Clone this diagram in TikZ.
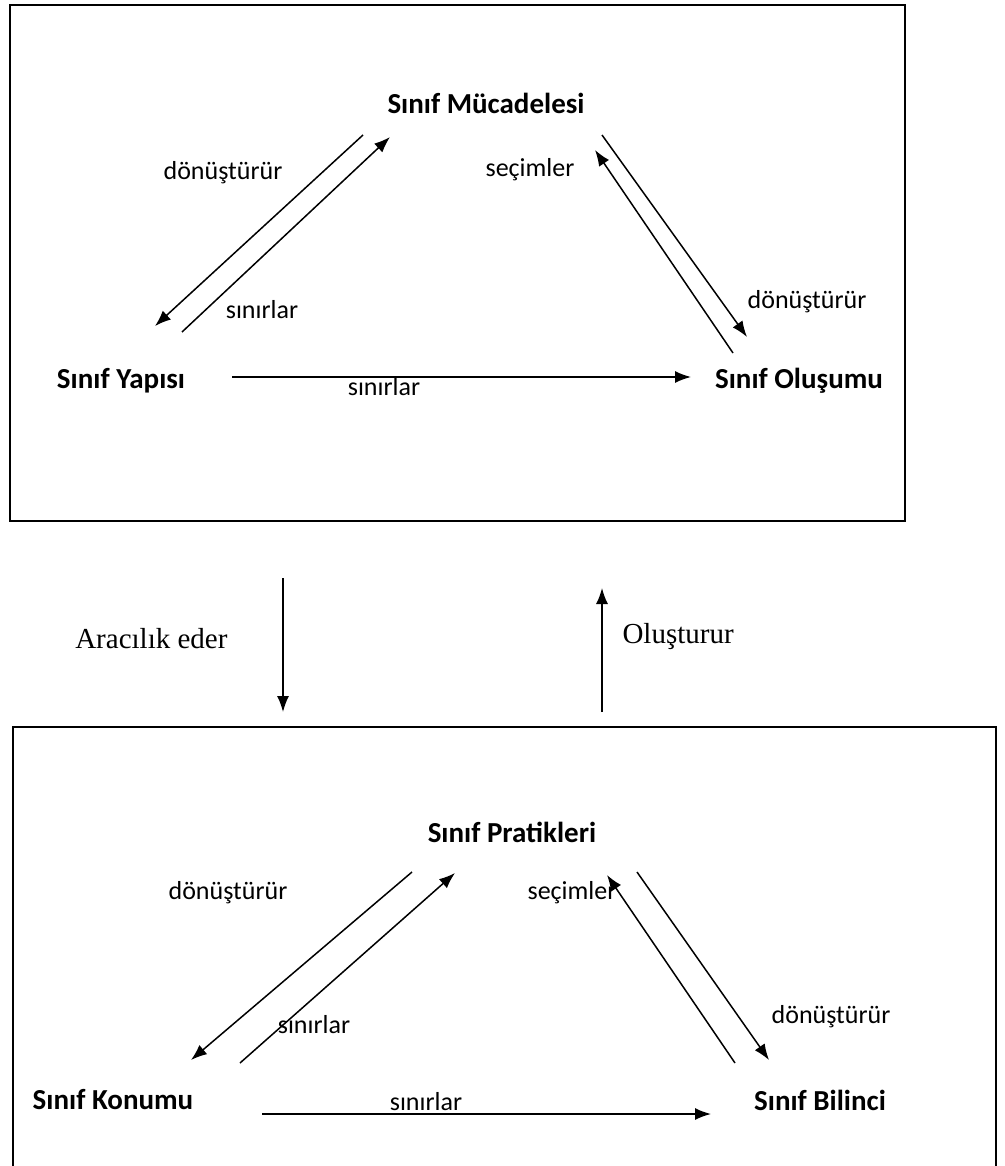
\documentclass[tikz,border=0pt]{standalone}
\usepackage{fontspec}
\setmainfont{Carlito}
\newfontfamily\timesfont{Liberation Serif}
\usetikzlibrary{arrows.meta}

\begin{document}
\begin{tikzpicture}[x=1pt,y=-1pt,
        lbl/.style={font=\fontsize{26}{31}\selectfont},
        hdr/.style={font=\fontsize{29}{34}\selectfont\bfseries},
        srf/.style={font=\fontsize{29}{34}\selectfont\timesfont},
        arr/.style={-{Latex[length=16pt,width=12pt]}, line width=1.5pt},
        frame/.style={line width=2.6pt}]
        \useasboundingbox (0,0) rectangle (1004,1166);

        % upper box
        \draw[frame] (10,5) rectangle (905,521);
        \node[hdr] (mucadele) at (486,103) {Sınıf Mücadelesi};
        \node[hdr] (yapi) at (121,381) {Sınıf Yapısı};
        \node[hdr] (olusum) at (799,381) {Sınıf Oluşumu};

        \coordinate (A1) at (363,135);
        \coordinate (A2) at (155,326);
        \coordinate (B1) at (182,332);
        \coordinate (B2) at (390,137);
        \coordinate (C1) at (602,135);
        \coordinate (C2) at (747,337);
        \coordinate (D1) at (733,353);
        \coordinate (D2) at (595,150);
        \coordinate (E1) at (232,377);
        \coordinate (E2) at (691,377);

        \draw[arr] (A1) -- (A2);
        \draw[arr] (B1) -- (B2);
        \draw[arr] (C1) -- (C2);
        \draw[arr] (D1) -- (D2);
        \draw[arr] (E1) -- (E2);

        \node[lbl] (ust1) at (223,173) {dönüştürür};
        \node[lbl] (ust2) at (262,310) {sınırlar};
        \node[lbl] (ust3) at (530,170) {seçimler};
        \node[lbl] (ust4) at (807,302) {dönüştürür};
        \node[lbl] (ust5) at (384,387) {sınırlar};

        % between the boxes
        \coordinate (F1) at (283,578);
        \coordinate (F2) at (283,712);
        \coordinate (G1) at (602,712);
        \coordinate (G2) at (602,588);
        \draw[arr] (F1) -- (F2);
        \draw[arr] (G1) -- (G2);
        \node[srf, anchor=east] (aracilik) at (231,639) {Aracılık eder};
        \node[srf, anchor=west] (olusturur) at (619,637) {Oluşturur};

        % lower box
        \draw[frame] (13,1166) -- (13,727) -- (996,727) -- (996,1166);
        \node[hdr] (pratik) at (512,832) {Sınıf Pratikleri};
        \node[hdr] (konum) at (113,1100) {Sınıf Konumu};
        \node[hdr] (bilinc) at (820,1100) {Sınıf Bilinci};

        \coordinate (H1) at (412,872);
        \coordinate (H2) at (191,1060);
        \coordinate (I1) at (240,1063);
        \coordinate (I2) at (455,873);
        \coordinate (J1) at (637,872);
        \coordinate (J2) at (769,1060);
        \coordinate (K1) at (735,1063);
        \coordinate (K2) at (607,875);
        \coordinate (L1) at (262,1114);
        \coordinate (L2) at (711,1114);

        \draw[arr] (H1) -- (H2);
        \draw[arr] (I1) -- (I2);
        \draw[arr] (J1) -- (J2);
        \draw[arr] (K1) -- (K2);
        \draw[arr] (L1) -- (L2);

        \node[lbl] (alt1) at (228,893) {dönüştürür};
        \node[lbl] (alt2) at (314,1025) {sınırlar};
        \node[lbl] (alt3) at (572,893) {seçimler};
        \node[lbl] (alt4) at (831,1017) {dönüştürür};
        \node[lbl] (alt5) at (426,1102) {sınırlar};
\end{tikzpicture}
\end{document}
